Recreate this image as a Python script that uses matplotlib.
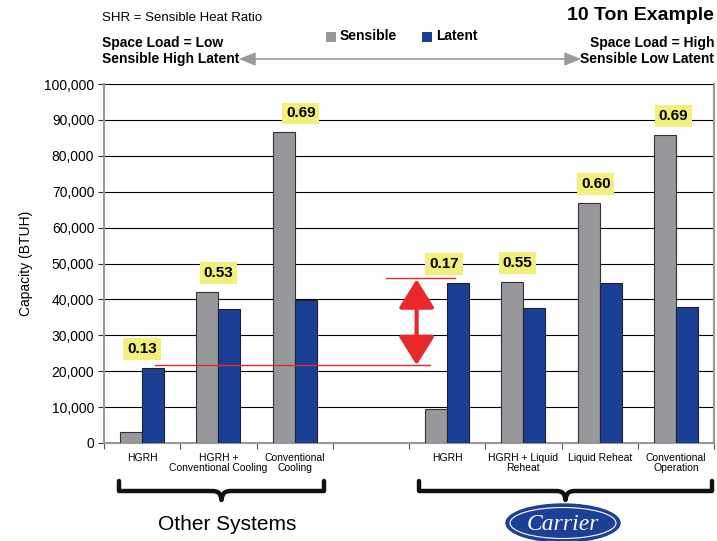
import numpy as np
import matplotlib
matplotlib.use("Agg")
import matplotlib.pyplot as plt
from matplotlib.patches import Ellipse, FancyArrowPatch, PathPatch, Rectangle
from matplotlib.path import Path

plt.rcParams['font.family'] = ['Liberation Sans Narrow', 'Liberation Sans', 'DejaVu Sans']

# --- data ---
categories = ["HGRH", "HGRH +\nConventional Cooling", "Conventional\nCooling", "",
              "HGRH", "HGRH + Liquid\nReheat", "Liquid Reheat", "Conventional\nOperation"]
sensible = [3000, 42000, 86500, 0, 9500, 44800, 66800, 85800]
latent = [20800, 37400, 39800, 0, 44600, 37600, 44600, 37900]
shr = ["0.13", "0.53", "0.69", "", "0.17", "0.55", "0.60", "0.69"]

GRAY = "#97989b"
BLUE = "#1b3f94"
RED = "#e8282a"
W, H = 717, 541

fig = plt.figure(figsize=(7.17, 5.41), dpi=100)
ax = fig.add_axes([104 / W, 1 - 443 / H, (714 - 104) / W, (443 - 84) / H])


def fx(px):
    return px / W


def fy(py):
    return 1 - py / H


x = np.arange(len(categories))
bw = 0.29
mask = [c != "" for c in categories]
xs = x[mask]
ax.bar(xs - bw / 2, np.array(sensible)[mask], bw, color=GRAY, edgecolor="#333333", linewidth=0.8, zorder=3)
ax.bar(xs + bw / 2, np.array(latent)[mask], bw, color=BLUE, edgecolor="#222222", linewidth=0.8, zorder=3)

# SHR labels above the taller bar of each pair
label_off = [0, 0, 0.08, 0, -0.04, -0.08, -0.05, -0.03]
for i, lab in enumerate(shr):
    if not lab:
        continue
    top = max(sensible[i], latent[i])
    ax.text(i + label_off[i], top + 5300, lab, ha="center", va="center", fontsize=11,
            fontweight="bold", family=["Liberation Sans", "DejaVu Sans"], zorder=5,
            bbox=dict(boxstyle="square,pad=0.25", facecolor="#f3ef7c", edgecolor="none"))

ax.set_xlim(-0.5, len(categories) - 0.5)
ax.set_ylim(0, 100000)
ax.set_yticks(np.arange(0, 100001, 10000))
ax.set_yticklabels([f"{v:,}" for v in range(0, 100001, 10000)], fontsize=10,
                   family=["Liberation Sans", "DejaVu Sans"])
ax.set_xticks(np.arange(-0.5, len(categories), 1))
ax.set_xticklabels([])
ax.set_xticks(x, minor=True)
ax.set_xticklabels(categories, minor=True, fontsize=7.5, linespacing=1.0)
ax.tick_params(axis="x", which="minor", length=0, pad=7)
ax.tick_params(axis="x", which="major", length=4, direction="out", color="#555555")
ax.tick_params(axis="y", length=4, color="#333333", pad=3)
ax.grid(axis="y", color="black", linewidth=0.8, zorder=0)
for s in ["left", "right", "bottom"]:
    ax.spines[s].set_color("#999999")
    ax.spines[s].set_linewidth(1.5)
ax.spines["top"].set_visible(False)
ax.set_ylabel("Capacity (BTUH)", fontsize=10, family=["Liberation Sans", "DejaVu Sans"], labelpad=8)

# red reference lines and arrow
ax.plot([0.17, 3.78], [21700, 21700], color=RED, linewidth=1, zorder=4)
ax.plot([3.2, 4.1], [46000, 46000], color=RED, linewidth=1, zorder=4)
ax.add_patch(FancyArrowPatch((3.6, 21700), (3.6, 45600), arrowstyle="<|-|>,head_length=8,head_width=5",
                             mutation_scale=2.2, color=RED, linewidth=3, shrinkA=0, shrinkB=0, zorder=6))

# header text
fig.text(fx(102), fy(18), "SHR = Sensible Heat Ratio", fontsize=9.5, va="center", ha="left")
fig.text(fx(714), fy(15), "10 Ton Example", fontsize=14, fontweight="bold", va="center", ha="right",
         family=["Liberation Sans", "DejaVu Sans"])
fig.text(fx(102), fy(51), "Space Load = Low\nSensible High Latent", fontsize=10, fontweight="bold",
         va="center", ha="left", linespacing=1.15)
fig.text(fx(714), fy(51), "Space Load = High\nSensible Low Latent", fontsize=10, fontweight="bold",
         va="center", ha="right", linespacing=1.15)
fig.patches.append(FancyArrowPatch((fx(236), fy(59)), (fx(584), fy(59)), transform=fig.transFigure,
                                   arrowstyle="<|-|>,head_length=10,head_width=4", color="#9a9a9a",
                                   linewidth=1.2))

# legend
fig.patches.append(Rectangle((fx(326), fy(42)), 10 / W, 10 / H, transform=fig.transFigure,
                             facecolor=GRAY, edgecolor="none"))
fig.text(fx(340), fy(36), "Sensible", fontsize=10, fontweight="bold", va="center")
fig.patches.append(Rectangle((fx(422), fy(42)), 10 / W, 10 / H, transform=fig.transFigure,
                             facecolor=BLUE, edgecolor="none"))
fig.text(fx(436), fy(36), "Latent", fontsize=10, fontweight="bold", va="center")


def brace(x0, x1, ytop, ybot):
    xm = (x0 + x1) / 2
    ymid = ybot - 9
    r = 10
    pts = [
        (x0, ytop), (x0, ymid), (x0, ymid), (x0 + r, ymid),
        (xm - 10, ymid), (xm - 3, ymid), (xm - 1, ymid + 2), (xm, ybot),
        (xm + 1, ymid + 2), (xm + 3, ymid), (xm + 10, ymid),
        (x1 - r, ymid), (x1, ymid), (x1, ymid), (x1, ytop),
    ]
    codes = [Path.MOVETO, Path.LINETO, Path.CURVE3, Path.CURVE3,
             Path.LINETO, Path.CURVE4, Path.CURVE4, Path.CURVE4,
             Path.CURVE4, Path.CURVE4, Path.CURVE4,
             Path.LINETO, Path.CURVE3, Path.CURVE3, Path.LINETO]
    verts = [(fx(a), fy(b)) for a, b in pts]
    fig.patches.append(PathPatch(Path(verts, codes), transform=fig.transFigure, facecolor="none",
                                 edgecolor="#111111", linewidth=3.2, capstyle="round", joinstyle="round"))


brace(119, 324, 481, 500)
brace(419, 712, 481, 500)

fig.text(fx(227), fy(525), "Other Systems", fontsize=15, ha="center", va="center",
         family=["Liberation Sans", "DejaVu Sans"])

# Carrier logo
fig.patches.append(Ellipse((fx(563), fy(523)), 114 / W, 38 / H, transform=fig.transFigure,
                           facecolor="#1d3f95", edgecolor="#1d3f95", linewidth=1))
fig.patches.append(Ellipse((fx(563), fy(523)), 106 / W, 31 / H, transform=fig.transFigure,
                           facecolor="none", edgecolor="white", linewidth=0.8))
fig.text(fx(563), fy(524), "Carrier", fontsize=17, style="italic", color="white", ha="center",
         va="center", family=["Liberation Serif", "DejaVu Serif"])

fig.savefig("out.png", dpi=100, facecolor="white")
